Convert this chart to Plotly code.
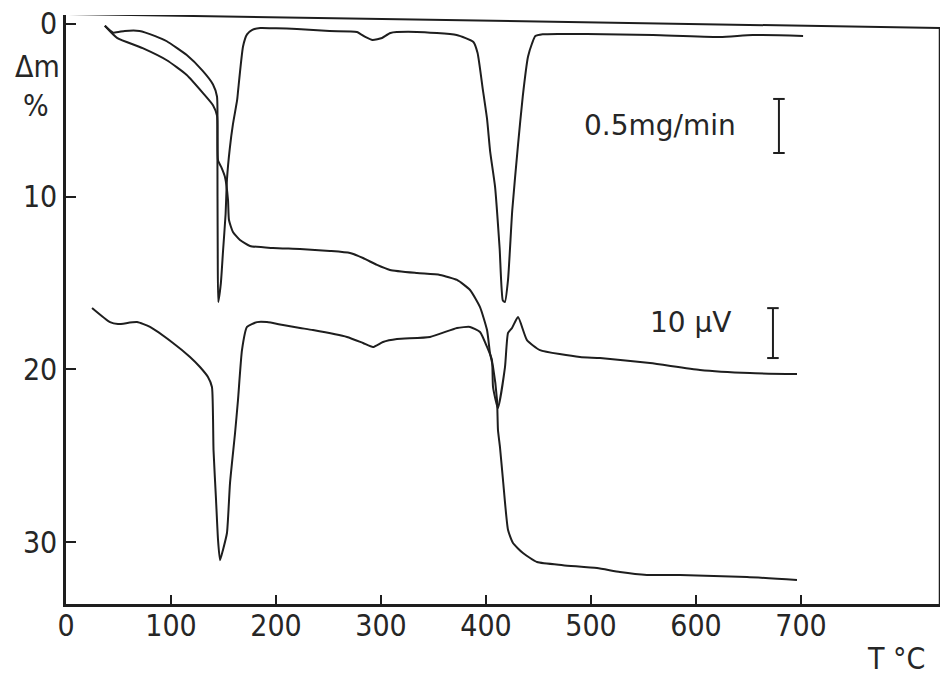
import plotly.graph_objects as go

# ---- data (T in °C, values on the Δm % scale) ----
tg_T = [37, 48.6, 73, 96, 115, 130.5, 140, 143.8, 144.3, 144.8, 148, 151.4, 154.3, 155.2, 159, 165.7,
        175.2, 197.1, 222.9, 251.4, 270.5, 282.9, 296.2, 308.6, 334.3, 356.2, 372.4, 384.8, 394.3,
        401, 403.8, 406.7, 410.5, 411.4, 413.3, 416.2, 421, 425.7, 435.2, 448.6, 473.3, 505.7,
        527.6, 553.3, 584.8, 648.6, 696.2]
tg_m = [0.1, 0.8, 1.4, 2.1, 2.95, 4.0, 4.7, 5.3, 6.6, 7.9, 8.3, 8.86, 10.19, 11.35, 12.04, 12.51,
        12.85, 12.97, 13.03, 13.14, 13.26, 13.55, 13.95, 14.24, 14.42, 14.53, 14.82, 15.40, 16.39,
        17.72, 19.05, 19.86, 21.77, 23.5, 24.49, 26.40, 29.30, 30.05, 30.63, 31.15, 31.33, 31.50,
        31.73, 31.90, 31.90, 32.02, 32.19]

dtg_T = [37, 45, 56, 70, 85, 96, 115, 130, 140, 143.8, 144.2, 144.3, 144.5, 145, 147.5, 149.5, 152,
         153.3, 156, 159, 163, 164, 168.6, 172.4, 177, 185, 200, 220, 251, 277, 285, 292, 301, 309,
         334, 372, 388, 392, 397, 401, 404, 408.6, 413, 416, 418, 421, 425, 430.5, 435, 440, 444,
         447, 454, 470, 496, 559, 623, 654, 702]
dtg_v = [0.1, 0.5, 0.4, 0.4, 0.7, 1.0, 1.8, 2.7, 3.5, 4.2, 7.0, 10.0, 13.0, 16.1, 15.0, 13.2, 11.0,
         9.0, 7.2, 5.8, 4.4, 3.8, 1.3, 0.6, 0.35, 0.23, 0.25, 0.29, 0.41, 0.46, 0.75, 0.93, 0.81,
         0.52, 0.46, 0.64, 1.04, 1.68, 3.8, 5.5, 7.4, 9.4, 13.0, 16.0, 16.1, 14.8, 10.8, 7.0, 4.2,
         1.9, 1.1, 0.7, 0.6, 0.58, 0.58, 0.64, 0.75, 0.64, 0.69]

dta_T = [24.8, 41.9, 49.5, 67.6, 80, 101.9, 118.1, 127.6, 135.2, 139, 140, 140.5, 142.9, 144.8,
         146.7, 149.5, 153.3, 156.2, 161, 163.8, 167.6, 172.4, 181.9, 191.4, 206.7, 222.9, 235.2,
         267.6, 282.9, 292.4, 301.9, 315.2, 346.7, 372.4, 384.8, 394.3, 401, 405.7, 406.7, 411.4,
         418.1, 421, 424.8, 430.5, 439, 451.4, 489.5, 508.6, 556.2, 603.8, 651.4, 696.2]
dta_v = [16.44, 17.26, 17.37, 17.26, 17.54, 18.47, 19.28, 19.86, 20.44, 21.02, 22.76, 24.67, 27.56,
         29.88, 31.04, 30.45, 29.47, 26.58, 23.68, 21.77, 18.88, 17.54, 17.26, 17.26, 17.43, 17.6,
         17.72, 18.12, 18.47, 18.70, 18.41, 18.24, 18.12, 17.60, 17.54, 17.83, 18.70, 19.46, 21.02,
         22.23, 19.86, 17.89, 17.60, 16.97, 18.30, 18.88, 19.28, 19.34, 19.63, 20.03, 20.21, 20.27]

x_ticks = [0, 100, 200, 300, 400, 500, 600, 700]
y_ticks = [0, 10, 20, 30]

LINE = "#1e1e1e"
TXT = "#262626"
FONT = "DejaVu Sans Condensed, Liberation Sans Narrow, DejaVu Sans, sans-serif"

fig = go.Figure()
for xs, ys in [(tg_T, tg_m), (dtg_T, dtg_v), (dta_T, dta_v)]:
    fig.add_trace(go.Scatter(x=xs, y=ys, mode="lines",
                             line=dict(color=LINE, width=2, shape="spline", smoothing=0.5),
                             showlegend=False, hoverinfo="skip"))

XMAX = 832.4
YTOP, YBOT = -0.52, 33.58

fig.update_layout(
    width=944, height=677,
    margin=dict(l=66, r=4, t=15, b=73, autoexpand=False),
    paper_bgcolor="white", plot_bgcolor="white",
    font=dict(family=FONT, size=30, color=TXT),
    xaxis=dict(range=[0, XMAX], tickvals=x_ticks, ticks="inside", ticklen=9,
               tickwidth=2, tickcolor=LINE, showline=True, linecolor=LINE, linewidth=2.5,
               showgrid=False, zeroline=False, tickfont=dict(size=30), automargin=False,
               ticklabelstandoff=-7),
    yaxis=dict(range=[YBOT, YTOP], tickvals=y_ticks, ticks="inside", ticklen=10,
               tickwidth=2, tickcolor=LINE, showline=True, linecolor=LINE, linewidth=2.5,
               showgrid=False, zeroline=False, tickfont=dict(size=30), automargin=False),
)

# frame: slightly slanted top line and right border (as in the scan)
fig.add_shape(type="line", xref="x", yref="y", x0=0, y0=-0.58, x1=XMAX, y1=0.23,
              line=dict(color=LINE, width=2))
fig.add_shape(type="line", xref="x", yref="y", x0=XMAX, y0=0.23, x1=XMAX, y1=YBOT,
              line=dict(color=LINE, width=2.5))

# scale bars
def bar(x, y0, y1):
    fig.add_shape(type="line", xref="x", yref="y", x0=x, y0=y0, x1=x, y1=y1,
                  line=dict(color=LINE, width=2))
    for yy in (y0, y1):
        fig.add_shape(type="line", xref="x", yref="y", x0=x - 5.5, y0=yy, x1=x + 5.5, y1=yy,
                      line=dict(color=LINE, width=2))

bar(679.0, 4.34, 7.47)
bar(673.3, 16.45, 19.34)

fig.add_annotation(x=565.7, y=5.9, xref="x", yref="y", text="0.5mg/min", showarrow=False,
                   font=dict(size=28, family="DejaVu Sans, sans-serif", color=TXT))
fig.add_annotation(x=595, y=17.3, xref="x", yref="y", text="10 μV", showarrow=False,
                   font=dict(size=28, family="DejaVu Sans, sans-serif", color=TXT))
for txt, px, py in [("Δm", -0.033, 0.913), ("%", -0.034, 0.846), ("T °C", 0.95, -0.093)]:
    fig.add_annotation(x=px, y=py, xref="paper", yref="paper", text=txt, showarrow=False,
                       xanchor="center", yanchor="middle", font=dict(size=30))

# remove the default 8 px body margin so the figure sits at the window origin
fig.write_html("out.html", config={"displayModeBar": False},
               post_script="document.body.style.margin='0';")
